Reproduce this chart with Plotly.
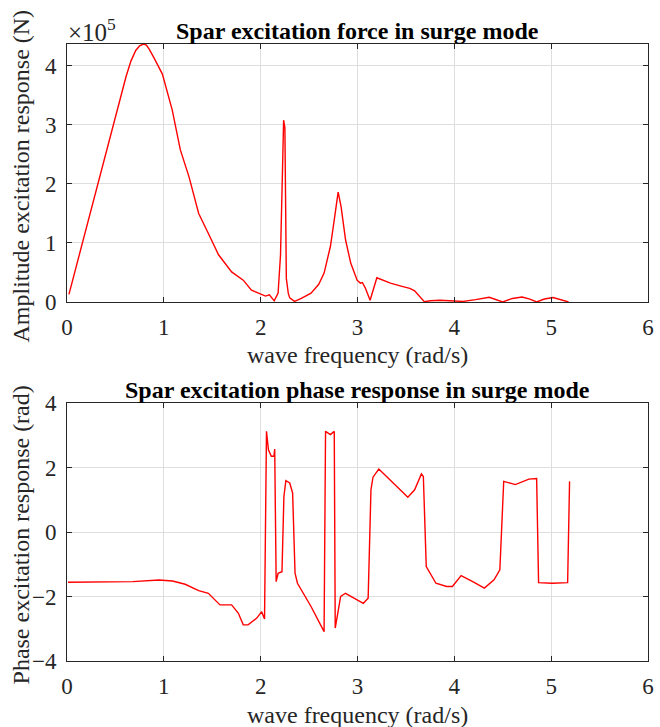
import plotly.graph_objects as go

# ---- Data ----
# Amplitude of excitation force, in units of 1e5 N
amp_freq = [0.02, 0.10, 0.20, 0.337, 0.45, 0.55, 0.61, 0.66, 0.71, 0.75, 0.79, 0.82, 0.85,
            0.90, 0.94, 0.985, 1.087, 1.17, 1.26, 1.36, 1.46, 1.565, 1.70, 1.82, 1.905,
            2.007, 2.05, 2.09, 2.14,
            2.18, 2.205, 2.225, 2.237, 2.25, 2.258, 2.265, 2.285, 2.30, 2.35,
            2.42, 2.52, 2.60, 2.655, 2.72, 2.76, 2.80, 2.83, 2.877, 2.93, 2.996, 3.03, 3.05,
            3.08, 3.13, 3.20, 3.34, 3.45, 3.54, 3.59, 3.69, 3.75, 3.85, 3.95, 4.09, 4.22,
            4.36, 4.50, 4.60, 4.70, 4.78, 4.85, 4.93, 5.02, 5.10, 5.18]
amp_e5 = [0.13, 0.63, 1.26, 2.13, 2.84, 3.47, 3.82, 4.08, 4.26, 4.34, 4.37, 4.35, 4.28,
          4.13, 4.01, 3.86, 3.25, 2.58, 2.12, 1.50, 1.16, 0.80, 0.51, 0.37, 0.20,
          0.12, 0.10, 0.12, 0.02,
          0.15, 0.80, 2.20, 3.08, 2.95, 1.20, 0.40, 0.15, 0.07, 0.01,
          0.06, 0.15, 0.30, 0.49, 0.94, 1.39, 1.86, 1.62, 1.05, 0.66, 0.37, 0.32, 0.33,
          0.24, 0.03, 0.41, 0.32, 0.27, 0.23, 0.19, 0.005, 0.02, 0.03, 0.02, 0.01, 0.04,
          0.08, 0.00, 0.06, 0.085, 0.05, 0.00, 0.05, 0.075, 0.04, 0.00]

# Phase of excitation force (rad)
phase_freq = [0.01, 0.30, 0.68, 0.95, 1.09, 1.22, 1.36, 1.46, 1.53, 1.58, 1.70, 1.77, 1.82,
              1.87, 1.96, 2.01, 2.04, 2.06, 2.08, 2.11, 2.137, 2.145, 2.16, 2.18, 2.22,
              2.24, 2.26, 2.30, 2.33, 2.355, 2.38, 2.45, 2.52, 2.655, 2.67, 2.72, 2.76,
              2.77, 2.826, 2.876, 3.06, 3.11, 3.139, 3.16, 3.22, 3.30, 3.39, 3.52, 3.59,
              3.66, 3.68, 3.71, 3.81, 3.92, 3.98, 4.07, 4.19, 4.31, 4.41, 4.47, 4.51,
              4.63, 4.77, 4.85, 4.87, 5.01, 5.17, 5.19]
phase_rad = [-1.556, -1.555, -1.54, -1.49, -1.52, -1.62, -1.82, -1.90, -2.10, -2.26, -2.26,
             -2.52, -2.88, -2.88, -2.67, -2.47, -2.70, 3.12, 2.55, 2.35, 2.35, 2.57, -1.54,
             -1.28, -1.23, 1.10, 1.59, 1.52, 1.21, -1.28, -1.59, -1.95, -2.31, -3.09, 3.12,
             3.02, 3.12, -2.98, -2.00, -1.90, -2.21, -2.05, 1.31, 1.70, 1.95, 1.72, 1.47,
             1.08, 1.31, 1.80, 1.72, -1.07, -1.59, -1.69, -1.69, -1.35, -1.54, -1.74, -1.48,
             -1.17, 1.57, 1.47, 1.64, 1.66, -1.57, -1.59, -1.57, 1.57]

x_ticks = [0, 1, 2, 3, 4, 5, 6]
amp_ticks = [0, 1, 2, 3, 4]
phase_ticks = [-4, -2, 0, 2, 4]

# ---- Layout geometry (pixels) ----
W, H = 660, 727
L, R, T, B = 67, 654, 44, 661
pw, ph = R - L, B - T


def px(x):
    return (x - L) / pw


def py(y):
    return (B - y) / ph


FONT = "Liberation Serif, Times New Roman, serif"
AX = "#262626"
GRID = "#dedede"

fig = go.Figure()
fig.add_trace(go.Scatter(x=amp_freq, y=amp_e5, mode="lines",
                         line=dict(color="#ff0000", width=1.4),
                         xaxis="x", yaxis="y", showlegend=False))
fig.add_trace(go.Scatter(x=phase_freq, y=phase_rad, mode="lines",
                         line=dict(color="#ff0000", width=1.4),
                         xaxis="x2", yaxis="y2", showlegend=False))

axis_common = dict(showline=True, linecolor=AX, linewidth=1, mirror="ticks",
                   ticks="inside", ticklen=5, tickcolor=AX, tickwidth=1,
                   showgrid=True, gridcolor=GRID, gridwidth=1, zeroline=False,
                   tickfont=dict(family=FONT, size=23, color=AX))

fig.update_layout(
    width=W, height=H,
    margin=dict(l=L, r=W - R, t=T, b=H - B),
    paper_bgcolor="white", plot_bgcolor="white",
    xaxis=dict(domain=[0, 1], anchor="y", range=[0, 6], tickvals=x_ticks,
               ticklabelstandoff=4, **axis_common),
    yaxis=dict(domain=[py(302), 1], anchor="x", range=[0, 4.37], tickvals=amp_ticks,
               ticklabelstandoff=5, **axis_common),
    xaxis2=dict(domain=[0, 1], anchor="y2", range=[0, 6], tickvals=x_ticks,
                ticklabelstandoff=4, **axis_common),
    yaxis2=dict(domain=[0, py(403)], anchor="x2", range=[-4, 4], tickvals=phase_ticks,
                ticklabelstandoff=5, **axis_common),
)

ann = []
ann.append(dict(text="<b>Spar excitation force in surge mode</b>", x=px(360), y=py(31),
                font=dict(family=FONT, size=24, color="black")))
ann.append(dict(text="<b>Spar excitation phase response in surge mode</b>", x=px(360), y=py(390),
                font=dict(family=FONT, size=24, color="black")))
ann.append(dict(text="wave frequency (rad/s)", x=px(361), y=py(355),
                font=dict(family=FONT, size=24, color=AX)))
ann.append(dict(text="wave frequency (rad/s)", x=px(361), y=py(715),
                font=dict(family=FONT, size=24, color=AX)))
ann.append(dict(text="Amplitude excitation response (N)", x=px(21), y=py(176), textangle=-90,
                font=dict(family=FONT, size=24, color=AX)))
ann.append(dict(text="Phase excitation response (rad)", x=px(21), y=py(535), textangle=-90,
                font=dict(family=FONT, size=24, color=AX)))
ann.append(dict(text="×10<sup>5</sup>", x=px(66), y=py(30), xanchor="left",
                font=dict(family=FONT, size=25, color=AX)))
for a in ann:
    a.setdefault("xanchor", "center")
    a.update(xref="paper", yref="paper", yanchor="middle", showarrow=False)
fig.update_layout(annotations=ann)

fig.write_html("out.html")
